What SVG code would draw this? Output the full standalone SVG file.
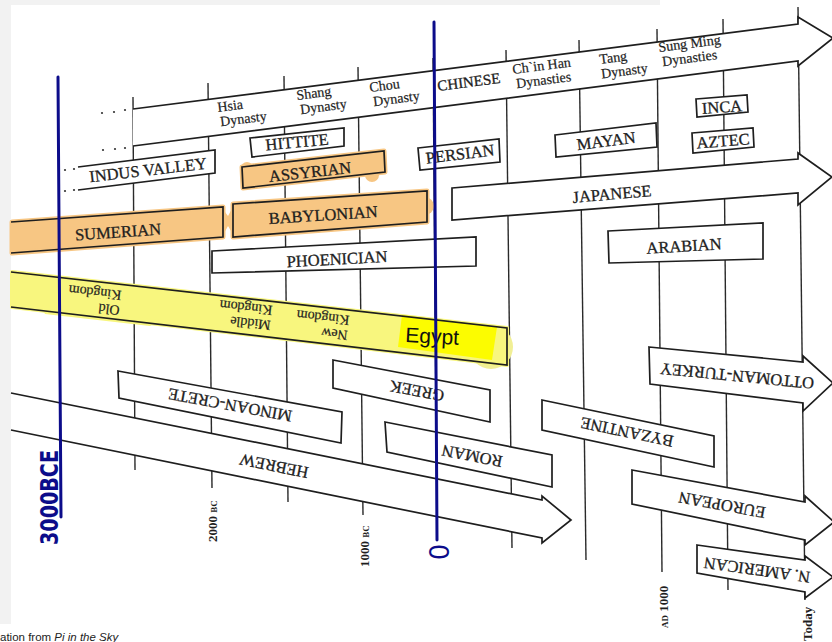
<svg xmlns="http://www.w3.org/2000/svg" width="832" height="642" viewBox="0 0 832 642">
<style>
.grid line{stroke:#2a2a2a;stroke-width:1.4}
.box{fill:#fff;stroke:#1e1e1e;stroke-width:1.7;stroke-linejoin:miter}
.ol{fill:none;stroke:#1e1e1e;stroke-width:1.7}
.lab{font-family:"Liberation Serif","Times New Roman",serif;font-size:16.5px;fill:#1e1e1e;stroke:#1e1e1e;stroke-width:0.3;text-anchor:middle}
.dyn{font-family:"Liberation Serif","Times New Roman",serif;font-size:14px;fill:#1e1e1e;stroke:#1e1e1e;stroke-width:0.2}
.year{font-family:"Liberation Serif","Times New Roman",serif;font-size:13px;font-weight:bold;fill:#1e1e1e}
.sm{font-size:9px}
.or{fill:#f7c683;stroke:#f7c683;stroke-width:5;stroke-linejoin:round}
.ye{fill:#f8f67e;stroke:#f8f67e;stroke-width:4;stroke-linejoin:round}
.blue{stroke:#0c0c8a;stroke-width:3;stroke-linecap:round;fill:none}
.hand{font-family:"DejaVu Sans",sans-serif;fill:#0c0c8a}
.dot{fill:#333}
</style>
<rect width="832" height="642" fill="#fff"/>
<rect x="0" y="0" width="11" height="624" fill="#f2f2f2"/>
<rect x="0" y="0" width="660" height="5" fill="#f2f2f2"/>

<g id="grid" class="grid">
<line x1="133" y1="97" x2="135" y2="470"/>
<line x1="208" y1="83" x2="212" y2="488"/>
<line x1="284" y1="76" x2="288" y2="502"/>
<line x1="358" y1="67" x2="363" y2="515"/>
<line x1="433" y1="58" x2="437" y2="530"/>
<line x1="506" y1="50" x2="512" y2="548"/>
<line x1="579" y1="40" x2="586" y2="560"/>
<line x1="657" y1="29" x2="662" y2="572"/>
<line x1="723" y1="19" x2="728" y2="590"/>
<line x1="798" y1="7" x2="805" y2="600"/>
</g>

<g id="leaders">
<circle class="dot" cx="102" cy="113" r="1.1"/><circle class="dot" cx="114" cy="112" r="1.1"/><circle class="dot" cx="125" cy="110" r="1.1"/>
<circle class="dot" cx="103" cy="150" r="1.1"/><circle class="dot" cx="115" cy="149" r="1.1"/><circle class="dot" cx="125" cy="148" r="1.1"/>
<circle class="dot" cx="65" cy="170" r="1.1"/><circle class="dot" cx="74" cy="169" r="1.1"/>
<circle class="dot" cx="65" cy="191" r="1.1"/><circle class="dot" cx="74" cy="190" r="1.1"/>
</g>

<g id="chinese">
<polyline class="box" points="133,109 798,24 798,17 833,38 798,66 798,61 133,146"/>
<text class="lab" style="font-size:15px;text-anchor:start" transform="translate(438,91) rotate(-7.3)">CHINESE</text>
<text class="dyn" transform="translate(218,112) rotate(-7.3)"><tspan x="0" y="0">Hsia</tspan><tspan x="1" dy="14.5">Dynasty</tspan></text>
<text class="dyn" transform="translate(297,100) rotate(-7.3)"><tspan x="0" y="0">Shang</tspan><tspan x="2" dy="14.5">Dynasty</tspan></text>
<text class="dyn" transform="translate(370,92) rotate(-7.3)"><tspan x="0" y="0">Chou</tspan><tspan x="2" dy="14.5">Dynasty</tspan></text>
<text class="dyn" transform="translate(513,74) rotate(-7.3)"><tspan x="0" y="0">Ch`in Han</tspan><tspan x="2" dy="14.5">Dynasties</tspan></text>
<text class="dyn" transform="translate(600,64) rotate(-7.3)"><tspan x="0" y="0">Tang</tspan><tspan x="0" dy="14.5">Dynasty</tspan></text>
<text class="dyn" transform="translate(659,52) rotate(-7.3)"><tspan x="0" y="0">Sung Ming</tspan><tspan x="2" dy="14.5">Dynasties</tspan></text>
</g>

<g id="indus">
<polyline class="box" points="78,167 215,150 215,173 78,190"/>
<text class="lab" transform="translate(148,170) rotate(-6.7)" y="5.5">INDUS VALLEY</text>
</g>
<g id="hittite">
<polygon class="box" points="250,138 344,128 344,146 252,157"/>
<text class="lab" transform="translate(297,142) rotate(-5.5)" y="5.5">HITTITE</text>
</g>
<g id="assyrian">
<circle cx="247" cy="168" r="6" fill="#f7c683"/>
<circle cx="372" cy="175" r="7" fill="#f7c683"/>
<polygon class="or" points="242,167 384,151 385,172 243,188"/>
<polygon class="ol" points="242,167 384,151 385,172 243,188"/>
<text class="lab" transform="translate(310,172) rotate(-6.4)" y="5.5">ASSYRIAN</text>
</g>
<g id="persian">
<polygon class="box" points="418,148 499,139 500,162 420,170"/>
<text class="lab" transform="translate(460,154) rotate(-7)" y="5.5">PERSIAN</text>
</g>
<g id="mayan">
<polygon class="box" points="555,135 656,123 657,147 556,157"/>
<text class="lab" transform="translate(606,141) rotate(-7.2)" y="5.5">MAYAN</text>
</g>
<g id="inca">
<polygon class="box" points="696,99 747,95 748,112 697,117"/>
<text class="lab" transform="translate(722,107) rotate(-4)" y="5.5">INCA</text>
</g>
<g id="aztec">
<polygon class="box" points="692,133 753,128 754,147 693,153"/>
<text class="lab" transform="translate(723,141) rotate(-4.5)" y="5.5">AZTEC</text>
</g>
<g id="japanese">
<polygon class="box" points="452,188 798,159 798,153 832,177 798,205 798,193 452,220"/>
<text class="lab" transform="translate(612,194) rotate(-5)" y="5.5">JAPANESE</text>
</g>

<g id="sumerian">
<polygon fill="#f7c683" points="222,208 228,216 234,205 234,236 228,226 222,237"/>
<polygon class="or" points="12,222 223,207 223,237 12,253"/>
<polyline class="ol" points="11,222 223,207 223,237 11,253"/>
<text class="lab" transform="translate(118,232) rotate(-4)" y="5.5">SUMERIAN</text>
</g>
<g id="babylonian">
<circle cx="425" cy="206" r="9" fill="#f7c683"/>
<polygon class="or" points="233,204 427,191 427,222 233,237"/>
<polygon class="ol" points="233,204 427,191 427,222 233,237"/>
<text class="lab" transform="translate(323,215) rotate(-3.6)" y="5.5">BABYLONIAN</text>
</g>
<g id="phoenician">
<polygon class="box" points="212,251 476,237 476,266 212,273"/>
<text class="lab" transform="translate(337,259) rotate(-3)" y="5.5">PHOENICIAN</text>
</g>
<g id="arabian">
<polygon class="box" points="608,231 763,223 763,259 609,263"/>
<text class="lab" transform="translate(684,246) rotate(-3.5)" y="5.5">ARABIAN</text>
</g>

<g id="egypt">
<circle cx="491" cy="347" r="22" fill="#f1ef95"/>
<polygon class="ye" points="12,272 507,328 507,365 12,307"/>
<polygon fill="#f8f67e" points="40,305 160,320 150,326 45,314"/>
<polygon fill="#fcfc00" points="402,315 497,327 492,360 398,347"/>
<polyline class="ol" points="11,272 507,328 507,365 11,307"/>
<text class="dyn" transform="translate(120,306) rotate(186.4)"><tspan x="0" y="0">Old</tspan><tspan x="0" dy="15">Kingdom</tspan></text>
<text class="dyn" transform="translate(271,321) rotate(186.4)"><tspan x="0" y="0">Middle</tspan><tspan x="0" dy="15">Kingdom</tspan></text>
<text class="dyn" transform="translate(348,331) rotate(186.4)"><tspan x="0" y="0">New</tspan><tspan x="0" dy="15">Kingdom</tspan></text>
<text transform="translate(405,342) rotate(3)" font-family="Liberation Sans, Arial, sans-serif" font-size="21" fill="#111">Egypt</text>
</g>

<g id="ottoman">
<polygon class="box" points="649,347 803,362 803,356 833,383 803,411 803,403 650,384"/>
<text class="lab" transform="translate(737,376) rotate(185.6)" y="5.5">OTTOMAN-TURKEY</text>
</g>
<g id="minoan">
<polygon class="box" points="118,371 342,412 341,443 119,398"/>
<text class="lab" transform="translate(230,405) rotate(190.4)" y="5.5">MINOAN-CRETE</text>
</g>
<g id="greek">
<polygon class="box" points="333,360 490,390 490,422 333,388"/>
<text class="lab" transform="translate(417,391) rotate(190.8)" y="5.5">GREEK</text>
</g>
<g id="roman">
<polygon class="box" points="385,422 552,455 552,487 387,452"/>
<text class="lab" transform="translate(472,456) rotate(191.2)" y="5.5">ROMAN</text>
</g>
<g id="hebrew">
<polyline class="box" points="11,393 542,500 542,496 571,520 542,543 542,538 11,430"/>
<text class="lab" transform="translate(274,466) rotate(191.4)" y="5.5">HEBREW</text>
</g>
<g id="byzantine">
<polygon class="box" points="542,400 714,436 714,467 542,430"/>
<text class="lab" transform="translate(627,432) rotate(191.8)" y="5.5">BYZANTINE</text>
</g>
<g id="european">
<polygon class="box" points="632,470 805,502 805,496 834,522 805,545 805,540 632,504"/>
<text class="lab" transform="translate(722,505) rotate(190.5)" y="5.5">EUROPEAN</text>
</g>
<g id="namerican">
<polygon class="box" points="697,545 805,560 805,556 833,577 805,598 805,592 697,573"/>
<text class="lab" transform="translate(757,570) rotate(187.9)" y="5.5">N. AMERICAN</text>
</g>

<g id="years">
<text class="year" transform="translate(217,542) rotate(-90)">2000 <tspan class="sm">BC</tspan></text>
<text class="year" transform="translate(369,567) rotate(-90)">1000 <tspan class="sm">BC</tspan></text>
<text class="year" transform="translate(668,628) rotate(-90)"><tspan class="sm">AD</tspan> 1000</text>
<text class="year" transform="translate(812,641) rotate(-90)">Today</text>
</g>

<g id="annotations">
<line class="blue" x1="58" y1="77" x2="61" y2="517"/>
<line class="blue" x1="434" y1="22" x2="437" y2="540"/>
<text class="hand" font-size="25" font-weight="bold" textLength="95" lengthAdjust="spacingAndGlyphs" transform="translate(58,545) rotate(-90)">3000BCE</text>
<text class="hand" font-size="26" text-anchor="middle" transform="translate(449,552) rotate(-90)">0</text>
</g>

<text x="0" y="641" font-family="Liberation Sans, Arial, sans-serif" font-size="11.5" fill="#222">ation from <tspan font-style="italic">Pi in the Sky</tspan></text>
</svg>
